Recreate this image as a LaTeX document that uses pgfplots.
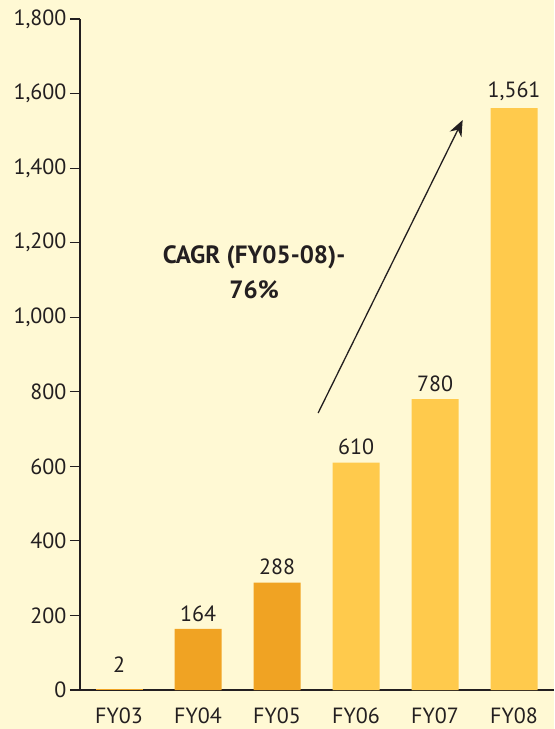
\documentclass[border=0pt]{standalone}
\usepackage{fontspec}
\setmainfont{PT Sans}
\usepackage{pgfplots}
\pgfplotsset{compat=1.18}
\usetikzlibrary{arrows.meta}

\definecolor{bgyel}{HTML}{FFF9D4}
\definecolor{barorg}{HTML}{F0A323}
\definecolor{baryel}{HTML}{FFCA4C}
\definecolor{txt}{HTML}{231F20}

\begin{document}
\begin{tikzpicture}[x=1pt,y=1pt]
% background panel, sized to the reference
\fill[bgyel] (-80,-39) rectangle (474,690);
\begin{axis}[
    at={(0,0)}, anchor=south west,
    scale only axis,
    width=474pt, height=671pt,
    ybar=0pt, bar shift=0pt, bar width=47pt,
    xmin=-0.494, xmax=5.506,
    ymin=0, ymax=1800,
    xtick={0,...,5},
    xticklabels={FY03,FY04,FY05,FY06,FY07,FY08},
    ytick={0,200,...,1800},
    axis lines*=left,
    axis line style={txt, line width=1.2pt},
    tick align=outside,
    major tick length=10pt,
    xtick style={draw=none},
    ytick style={txt, line width=1.2pt},
    /pgf/number format/.cd, 1000 sep={,}, assume math mode=true,
    /pgfplots/.cd,
    ticklabel style={font=\fontsize{22}{24}\selectfont, text=txt},
    xticklabel style={yshift=-4pt},
    nodes near coords,
    every node near coord/.append style={font=\fontsize{22}{24}\selectfont, text=txt, yshift=4pt},
    clip=false,
]
% FY03 is almost zero; its label sits a little higher in the original
\addplot[fill=barorg, draw=none, every node near coord/.append style={yshift=9pt}]
    coordinates {(0,2)};
\addplot[fill=barorg, draw=none] coordinates {(1,164) (2,288)};
\addplot[fill=baryel, draw=none] coordinates {(3,610) (4,780) (5,1561)};
\draw[txt, line width=1.3pt, -{Stealth[length=16pt,width=13pt]}]
    (axis cs:2.52,743) -- (axis cs:4.35,1529);
\node[align=center, text=txt, font=\bfseries\fontsize{25}{35}\selectfont]
    at (axis cs:1.71,1121) {CAGR (FY05-08)-\\76\%};
\end{axis}
\end{tikzpicture}
\end{document}
